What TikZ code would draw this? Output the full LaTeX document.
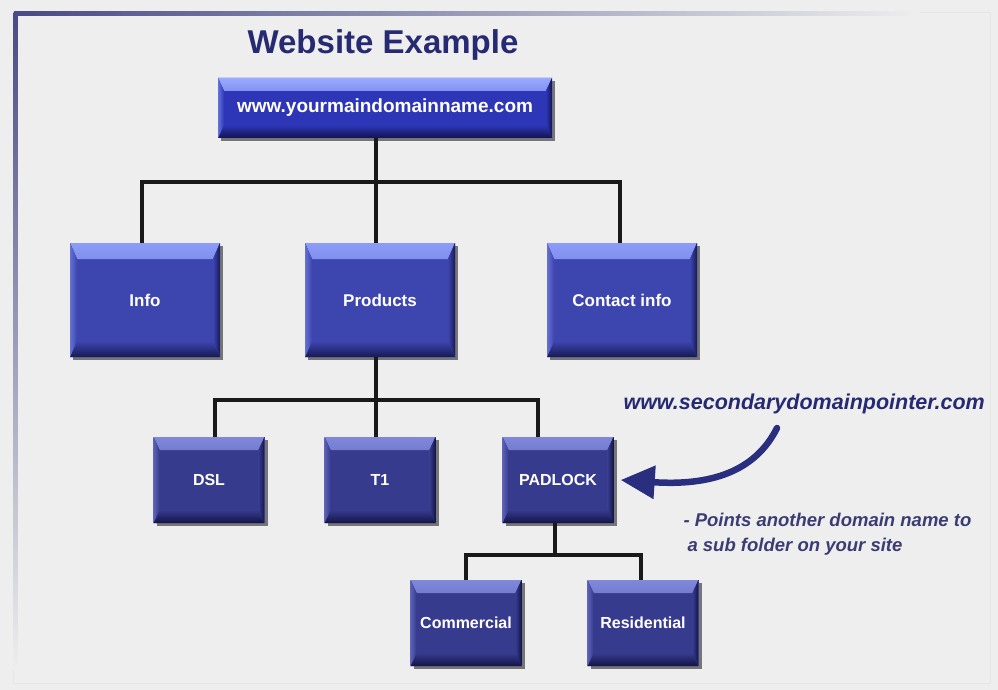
\documentclass[tikz,border=0pt]{standalone}
\usepackage{fontspec}
\setmainfont{Liberation Sans}
\usetikzlibrary{shadows,arrows.meta}
\definecolor{bg}{HTML}{EEEEEE}
\definecolor{framec}{HTML}{4A4A84}
\definecolor{titlec}{HTML}{262A72}
\definecolor{notec}{HTML}{3C3C74}
\definecolor{arrowc}{HTML}{2A2E7E}
\definecolor{hiT}{HTML}{9AAAFF}
\definecolor{midT}{HTML}{2E36B8}
\definecolor{loT}{HTML}{101450}
\definecolor{hiA}{HTML}{8C9CF8}
\definecolor{midA}{HTML}{3D45AE}
\definecolor{loA}{HTML}{161A56}
\definecolor{hiB}{HTML}{8088DC}
\definecolor{midB}{HTML}{373B8E}
\definecolor{loB}{HTML}{121444}
\newcommand\orgbevel[5]{%
  \fill[top color=#1, bottom color=#2]
    (path picture bounding box.north west) -- (path picture bounding box.north east)
    -- ([xshift=-#4,yshift=-#5]path picture bounding box.north east)
    -- ([xshift=#4,yshift=-#5]path picture bounding box.north west) -- cycle;
  \fill[top color=#2, bottom color=#3]
    (path picture bounding box.south west) -- (path picture bounding box.south east)
    -- ([xshift=-#4,yshift=#5]path picture bounding box.south east)
    -- ([xshift=#4,yshift=#5]path picture bounding box.south west) -- cycle;
  \fill[left color=#2, right color=#3]
    (path picture bounding box.north east) -- (path picture bounding box.south east)
    -- ([xshift=-#4,yshift=#5]path picture bounding box.south east)
    -- ([xshift=-#4,yshift=-#5]path picture bounding box.north east) -- cycle;
  \fill[left color=#1!50!#2, right color=#2]
    (path picture bounding box.north west) -- (path picture bounding box.south west)
    -- ([xshift=#4,yshift=#5]path picture bounding box.south west)
    -- ([xshift=#4,yshift=-#5]path picture bounding box.north west) -- cycle;
}
\tikzset{
  bevelbase/.style={rectangle, inner sep=0pt, text=white,
    drop shadow={shadow xshift=3pt,shadow yshift=-3pt,opacity=0.5,fill=black}},
  topbox/.style={bevelbase, fill=midT, path picture={\orgbevel{hiT}{midT}{loT}{6pt}{13pt}},
    minimum width=334pt, minimum height=60pt, font=\bfseries\fontsize{19}{21}\selectfont},
  midbox/.style={bevelbase, fill=midA, path picture={\orgbevel{hiA}{midA}{loA}{7pt}{16pt}},
    minimum width=150pt, minimum height=114pt, font=\bfseries\fontsize{17}{20}\selectfont},
  lowbox/.style={bevelbase, fill=midB, path picture={\orgbevel{hiB}{midB}{loB}{6pt}{13pt}},
    minimum width=111pt, minimum height=86pt, font=\bfseries\fontsize{16}{19}\selectfont},
  link/.style={line width=3.5pt, black!90},
}
\begin{document}
\begin{tikzpicture}[x=1pt,y=-1pt]
\useasboundingbox (0,0) rectangle (998,690);
\fill[bg] (0,0) rectangle (998,690);
% frame
\draw[black!10, line width=1pt] (13,13) rectangle (990,683);
\fill[left color=framec, right color=bg] (14,12) rectangle (920,16);
\fill[top color=framec, bottom color=bg] (13.5,13) rectangle (17.5,670);

\node[font=\bfseries\fontsize{33}{36}\selectfont, text=titlec] (title) at (383,45) {Website Example};

\node[topbox] (top) at (385,108) {www.yourmaindomainname.com};

\node[midbox] (info) at (145,300) {Info};
\node[midbox] (products) at (380,300) {Products};
\node[midbox] (contact) at (622,300) {Contact info};

\node[lowbox] (dsl) at (209,480) {DSL};
\node[lowbox] (t1) at (380,480) {T1};
\node[lowbox] (padlock) at (558,480) {PADLOCK};

\node[lowbox] (commercial) at (466,623) {Commercial};
\node[lowbox] (residential) at (643,623) {Residential};

% connectors
\coordinate (bar1) at (376,182);
\draw[link] ([xshift=-9pt]top.south) -- (bar1);
\draw[link] ([xshift=-3pt]info.north) |- (bar1) -| ([xshift=-2pt]contact.north);
\draw[link] (bar1) -- ([xshift=-4pt]products.north);

\coordinate (bar2) at (376,400);
\draw[link] ([xshift=-4pt]products.south) -- (bar2);
\draw[link] ([xshift=6pt]dsl.north) |- (bar2) -| ([xshift=-20pt]padlock.north);
\draw[link] (bar2) -- ([xshift=-4pt]t1.north);

\coordinate (bar3) at (555,555);
\draw[link] ([xshift=-3pt]padlock.south) -- (bar3);
\draw[link] (commercial.north) |- (bar3) -| ([xshift=-2pt]residential.north);

% annotation
\node[font=\bfseries\itshape\fontsize{21.5}{24}\selectfont, text=titlec, anchor=west] (sec) at (620,404) {www.secondarydomainpointer.com};
\coordinate (arrowstart) at (777,428);
\draw[line width=6.5pt, arrowc, line cap=round, -{Triangle[length=34pt,width=32pt]}]
  (arrowstart) .. controls (755,472) and (710,486) .. ([xshift=7pt]padlock.east);

\node[font=\bfseries\itshape\fontsize{18.5}{25}\selectfont, text=notec, anchor=north west, align=left] (note) at (680,510)
  {- Points another domain name to\\\hspace*{4pt}a sub folder on your site};
\end{tikzpicture}
\end{document}
